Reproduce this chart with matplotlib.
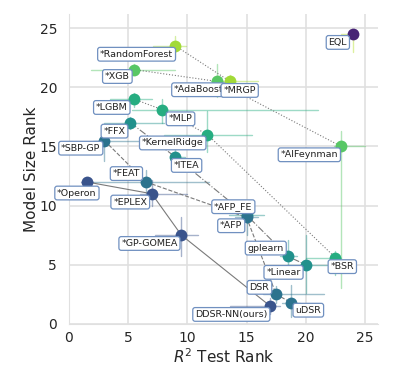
import matplotlib
matplotlib.use("Agg")
import matplotlib.pyplot as plt
import seaborn as sns

# ── data: median ranks and error-bar bounds per method ───────────────────────
methods = ["*RandomForest", "*XGB", "*AdaBoost", "*MRGP", "EQL", "*LGBM", "*MLP",
           "*FFX", "*KernelRidge", "*SBP-GP", "*ITEA", "*FEAT", "*Operon", "*EPLEX",
           "*GP-GOMEA", "*AFP_FE", "*AFP", "gplearn", "*Linear", "*BSR", "DSR",
           "uDSR", "DDSR-NN(ours)", "*AIFeynman"]
r2_rank   = [9.0, 5.5, 12.5, 13.6, 24.0, 5.5, 7.9, 5.2, 11.7, 3.0, 9.0, 6.5, 1.5, 7.0,
             9.5, 15.0, 15.0, 18.5, 20.0, 22.5, 17.5, 18.75, 17.0, 23.0]
size_rank = [23.5, 21.5, 20.5, 20.5, 24.5, 19.0, 18.1, 17.0, 16.0, 15.5, 14.1, 12.0, 12.0,
             11.0, 7.5, 9.2, 9.0, 5.7, 5.0, 5.6, 2.5, 1.8, 1.5, 15.0]
r2_lo   = [7.1, 1.9, 12.0, 12.5, 23.0, 3.5, 5.3, 3.0, 8.0, 2.0, 8.5, 1.6, 1.0, 6.0,
           7.3, 13.5, 14.0, 17.8, 18.4, 20.0, 16.4, 18.0, 13.6, 22.4]
r2_hi   = [9.9, 9.0, 13.0, 16.0, 24.4, 7.0, 21.0, 8.0, 15.5, 7.0, 9.8, 11.8, 2.0, 10.0,
           10.9, 16.5, 16.0, 19.3, 21.8, 23.0, 21.5, 19.5, 17.8, 25.0]
size_lo = [22.6, 21.0, 19.2, 20.0, 23.0, 18.3, 17.0, 16.5, 14.5, 13.8, 13.5, 11.1, 11.6,
           10.0, 5.7, 8.5, 7.5, 5.0, 2.6, 4.1, 1.8, 0.6, 0.8, 3.0]
size_hi = [24.3, 22.0, 22.0, 21.0, 24.8, 19.5, 19.0, 17.5, 18.0, 16.5, 14.8, 13.0, 12.4,
           12.2, 9.0, 9.8, 9.6, 7.1, 7.5, 6.2, 3.2, 3.3, 2.2, 16.3]
front   = [6, 5, 5, 6, 7, 4, 4, 3, 4, 2, 3, 2, 1, 1, 1, 3, 2, 3, 3, 4, 2, 2, 1, 5]

# pareto fronts, in drawing order along each line
front_lines = {
    1: ["*Operon", "*EPLEX", "*GP-GOMEA", "DDSR-NN(ours)"],
    2: ["*SBP-GP", "*FEAT", "*AFP", "DSR", "uDSR"],
    3: ["*FFX", "*ITEA", "*AFP_FE", "gplearn", "*Linear"],
    4: ["*LGBM", "*MLP", "*KernelRidge", "*BSR"],
    5: ["*XGB", "*AdaBoost", "*AIFeynman"],
    6: ["*RandomForest", "*MRGP"],
}

# ── styling ──────────────────────────────────────────────────────────────────
cmap = plt.get_cmap("viridis")
front_cval = {1: 0.26, 2: 0.38, 3: 0.5, 4: 0.62, 5: 0.74, 6: 0.86, 7: 0.1}
front_ls = {1: "-", 2: "--", 3: "-.", 4: ":", 5: ":", 6: ":"}
err_override = {"EQL": "#b5de2b"}

# label offsets in points (text centre relative to the marker)
label_off = {
    "*RandomForest": (-28, -6), "*XGB": (-12, -5), "*AdaBoost": (-13, -6),
    "*MRGP": (7, -6.5), "EQL": (-11, -6), "*LGBM": (-16, -6), "*MLP": (13, -6.5),
    "*FFX": (-11.5, -6), "*KernelRidge": (-25, -6), "*SBP-GP": (-17, -5.5),
    "*ITEA": (8, -6), "*FEAT": (-14, 6), "*Operon": (-7, -8), "*EPLEX": (-15.5, -6),
    "*GP-GOMEA": (-23, -6), "*AFP_FE": (-9.5, 6), "*AFP": (-11, -6),
    "gplearn": (-16, 6), "*Linear": (-16, -5.5), "*BSR": (5, -6.5), "DSR": (-12, 5),
    "uDSR": (12.5, -5.5), "DDSR-NN(ours)": (-28, -6), "*AIFeynman": (-23, -6),
}

sns.set_style("whitegrid")
plt.rcParams["font.family"] = ["DejaVu Sans"]

fig = plt.figure(figsize=(4.2, 3.68), dpi=100)
ax = fig.add_axes([0.164, 0.12, 0.736, 0.842])

idx = {m: i for i, m in enumerate(methods)}

for i, m in enumerate(methods):
    c = cmap(front_cval[front[i]])
    ec = err_override.get(m, c)
    ax.plot([r2_lo[i], r2_hi[i]], [size_rank[i]] * 2, color=ec, lw=1.0, alpha=0.45, zorder=2)
    ax.plot([r2_rank[i]] * 2, [size_lo[i], size_hi[i]], color=ec, lw=1.0, alpha=0.45, zorder=2)

for f, names in front_lines.items():
    xs = [r2_rank[idx[n]] for n in names]
    ys = [size_rank[idx[n]] for n in names]
    ax.plot(xs, ys, ls=front_ls[f], color="#7a7a7a", lw=0.8, zorder=3)

for i, m in enumerate(methods):
    ax.plot(r2_rank[i], size_rank[i], "o", ms=8.5, color=cmap(front_cval[front[i]]),
            mec="none", zorder=4)

for i, m in enumerate(methods):
    ax.annotate(m, (r2_rank[i], size_rank[i]), xytext=label_off[m],
                textcoords="offset points", ha="center", va="center", fontsize=6.8,
                color="#222222", zorder=5,
                bbox=dict(boxstyle="round,pad=0.25", fc="white", ec="#7090c0", lw=0.9))

ax.set_xlim(0, 26.1)
ax.set_ylim(0, 26.2)
ax.set_xticks([0, 5, 10, 15, 20, 25])
ax.set_yticks([0, 5, 10, 15, 20, 25])
ax.grid(color="#e0e0e0", lw=1.2)
for s in ("top", "right"):
    ax.spines[s].set_visible(False)
for s in ("left", "bottom"):
    ax.spines[s].set_color("#e0e0e0")
ax.tick_params(labelsize=10, pad=2, colors="#262626")
ax.tick_params(axis="y", pad=5)
ax.set_xlabel(r"$R^2$ Test Rank", fontsize=11, labelpad=1, color="#262626")
ax.set_ylabel("Model Size Rank", fontsize=11, labelpad=0, color="#262626")

fig.savefig("out.png", dpi=100)
